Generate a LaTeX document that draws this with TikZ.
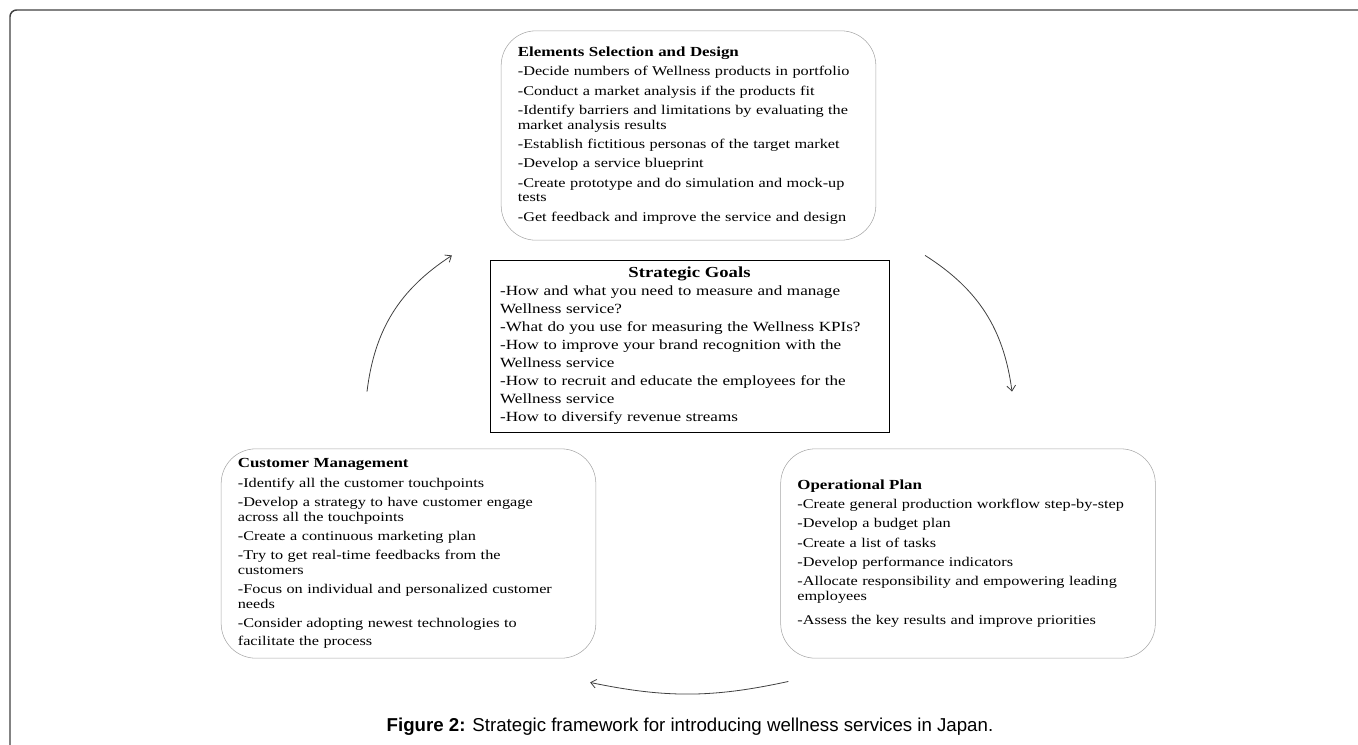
\documentclass[tikz,border=0pt]{standalone}
\usepackage{fontspec}
\setmainfont[FakeStretch=1.22]{Liberation Serif}
\newfontfamily\capfont{Liberation Sans}
\usetikzlibrary{positioning, arrows.meta}

\begin{document}
\begin{tikzpicture}[x=0.75pt, y=0.75pt,
    stagebox/.style={draw=black!35, rounded corners=26pt, minimum width=281pt, minimum height=157pt,
      text width=256pt, inner sep=0pt, align=left, font=\fontsize{10}{11}\selectfont},
    goalbox/.style={draw, thin, minimum width=299pt, minimum height=129pt,
      text width=284pt, inner sep=0pt, align=left, font=\fontsize{10.5}{13.5}\selectfont},
    cyclearrow/.style={-{Straight Barb[length=4pt, width=6.5pt]}, line width=0.6pt, black!75}]
  \useasboundingbox (0,0) rectangle (1358,-744);
  % page frame, cut at the right and bottom
  \draw[line width=1.1pt, black!75, rounded corners=5pt] (1370,-10) -- (10,-10) -- (10,-760);

  \node[stagebox] (elem) at (688.5,-135.5) {\textbf{\fontsize{10.4}{11}\selectfont Elements Selection and Design}\\[3.5pt]
    -Decide numbers of Wellness products in portfolio\\[3.5pt]
    -Conduct a market analysis if the products fit\\[3.5pt]
    -Identify barriers and limitations by evaluating the\\
    market analysis results\\[3.5pt]
    -Establish fictitious personas of the target market\\[3.5pt]
    -Develop a service blueprint\\[3.5pt]
    -Create prototype and do simulation and mock-up\\
    tests\\[3.5pt]
    -Get feedback and improve the service and design};
  \node[goalbox] (goals) at (689.5,-346) {\hfill\textbf{\fontsize{11.5}{13.5}\selectfont Strategic Goals}\hfill\null\\
    -How and what you need to measure and manage\\
    Wellness service?\\
    -What do you use for measuring the Wellness KPIs?\\
    -How to improve your brand recognition with the\\
    Wellness service\\
    -How to recruit and educate the employees for the\\
    Wellness service\\
    -How to diversify revenue streams};
  \node[stagebox] (cust) at (408.5,-553.5) {\textbf{\fontsize{10.4}{11}\selectfont Customer Management}\\[3.5pt]
    -Identify all the customer touchpoints\\[3.5pt]
    -Develop a strategy to have customer engage\\
    across all the touchpoints\\[3.5pt]
    -Create a continuous marketing plan\\[3.5pt]
    -Try to get real-time feedbacks from the\\
    customers\\[3.5pt]
    -Focus on individual and personalized customer\\
    needs\\[3.5pt]
    -Consider adopting newest technologies to\\[2.5pt]
    facilitate the process};
  \node[stagebox] (oper) at (968,-553.5) {\textbf{\fontsize{10.4}{11}\selectfont Operational Plan}\\[3.5pt]
    -Create general production workflow step-by-step\\[3.5pt]
    -Develop a budget plan\\[3.5pt]
    -Create a list of tasks\\[3.5pt]
    -Develop performance indicators\\[3.5pt]
    -Allocate responsibility and empowering leading\\
    employees\\[7pt]
    -Assess the key results and improve priorities};

  \draw[cyclearrow] ([shift={(49,-15)}]elem.south east) to[bend left=25] ([shift={(44,57)}]oper.north);
  \draw[cyclearrow] ([shift={(8,-23)}]oper.south west) to[bend left=12] ([shift={(-6,-24)}]cust.south east);
  \draw[cyclearrow] ([shift={(-41.5,57)}]cust.north) to[bend left=25] ([shift={(-49,-15)}]elem.south west);

  \node[font=\capfont\fontsize{14}{16}\selectfont] (caption) at (690,-727)
    {\textbf{Figure 2:} Strategic framework for introducing wellness services in Japan.};
\end{tikzpicture}
\end{document}
